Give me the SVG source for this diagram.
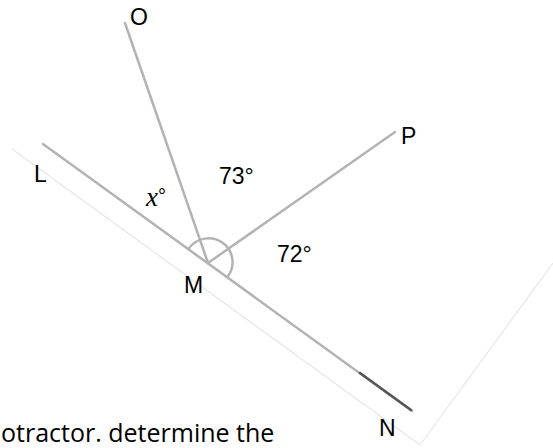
<svg xmlns="http://www.w3.org/2000/svg" width="553" height="448" viewBox="0 0 553 448">
<style>
.ray{stroke:#b3b3b3;stroke-width:2.5;stroke-linecap:round;fill:none}
.faint{stroke:#e6e6e6;stroke-width:1.2;fill:none}
.lbl{font-family:"Liberation Sans",Arial,sans-serif;font-size:23px;fill:#000}
</style>
<rect width="553" height="448" fill="#fff"/>
<g id="paper">
<line class="faint" x1="12" y1="149" x2="420" y2="445"/>
<line class="faint" x1="420" y1="445" x2="553" y2="263"/>
</g>
<g id="connectors">
<line class="ray" x1="43" y1="144" x2="412" y2="411"/>
<line x1="360" y1="373" x2="411" y2="410" stroke="#555" stroke-width="2.5" stroke-linecap="round"/>
<line class="ray" x1="125" y1="23" x2="208" y2="263"/>
<line class="ray" x1="208" y1="263" x2="395" y2="132"/>
<path class="ray" stroke-width="2" d="M188.6,248.9 A24,24 0 1 1 227.4,277.1"/>
</g>
<g id="O"><text class="lbl" x="130" y="25">O</text></g>
<g id="L"><text class="lbl" x="34" y="182">L</text></g>
<g id="M"><text class="lbl" x="184" y="293">M</text></g>
<g id="N"><text class="lbl" x="379" y="436">N</text></g>
<g id="P"><text class="lbl" x="401" y="144">P</text></g>
<g id="angle-x"><text x="146" y="206" style="font-family:'Liberation Serif',serif;font-style:italic;font-size:27px">x<tspan style="font-family:'Liberation Sans',sans-serif;font-style:normal;font-size:20px" dy="-3">°</tspan></text></g>
<g id="angle-73"><text class="lbl" x="219" y="184">73°</text></g>
<g id="angle-72"><text class="lbl" x="277" y="262">72°</text></g>
<g id="caption"><text x="1" y="442" style="font-family:'Open Sans',sans-serif;font-size:25px;fill:#000">otractor. determine the</text></g>
</svg>
